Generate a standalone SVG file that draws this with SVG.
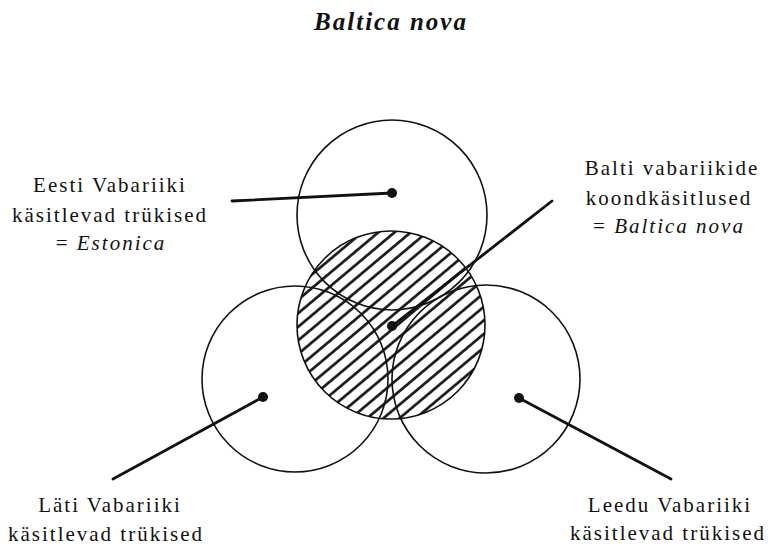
<svg xmlns="http://www.w3.org/2000/svg" width="774" height="546" viewBox="0 0 774 546">
<style>
.c{fill:none;stroke:#111;stroke-width:1.6}
.ln{stroke:#111;stroke-width:2.8;stroke-linecap:round}
.dot{fill:#111}
text{font-family:"Liberation Serif","Times New Roman",serif;font-size:21px;fill:#111;text-anchor:middle;letter-spacing:2px}
.it{font-style:italic}
.title{font-size:25px;font-weight:bold;font-style:italic;letter-spacing:2px}
</style>
<defs>
<pattern id="hatch" patternUnits="userSpaceOnUse" width="20" height="10.4" patternTransform="rotate(-40)">
<line x1="-1" y1="5.2" x2="21" y2="5.2" stroke="#111" stroke-width="2.6"/>
</pattern>
</defs>
<rect width="774" height="546" fill="#fff"/>
<text class="title" x="391" y="30">Baltica nova</text>
<g id="baltica">
<circle cx="391" cy="325" r="94" fill="url(#hatch)" stroke="#111" stroke-width="1.6"/>
<circle class="dot" cx="392" cy="326" r="5"/>
</g>
<g id="eesti">
<circle class="c" cx="392" cy="215" r="95"/>
<circle class="dot" cx="392" cy="193" r="5"/>
</g>
<g id="lati">
<circle class="c" cx="295" cy="379" r="93"/>
<circle class="dot" cx="263" cy="397" r="5"/>
</g>
<g id="leedu">
<circle class="c" cx="486" cy="379" r="94"/>
<circle class="dot" cx="519" cy="398" r="5"/>
</g>
<g id="connectors">
<line class="ln" x1="232" y1="201" x2="392" y2="193"/>
<line class="ln" x1="392" y1="326" x2="552" y2="201"/>
<line class="ln" x1="263" y1="397" x2="113" y2="479"/>
<line class="ln" x1="519" y1="398" x2="671" y2="479"/>
</g>
<g id="label-eesti">
<text x="110" y="192">Eesti Vabariiki</text>
<text x="110" y="222">käsitlevad trükised</text>
<text x="111" y="250">= <tspan class="it">Estonica</tspan></text>
</g>
<g id="label-baltica">
<text x="672" y="175">Balti vabariikide</text>
<text x="669" y="205">koondkäsitlused</text>
<text x="669" y="233">=  <tspan class="it">Baltica nova</tspan></text>
</g>
<g id="label-lati">
<text x="110" y="512">Läti Vabariiki</text>
<text x="106" y="541">käsitlevad trükised</text>
</g>
<g id="label-leedu">
<text x="670" y="512">Leedu Vabariiki</text>
<text x="668" y="540">käsitlevad trükised</text>
</g>
</svg>
